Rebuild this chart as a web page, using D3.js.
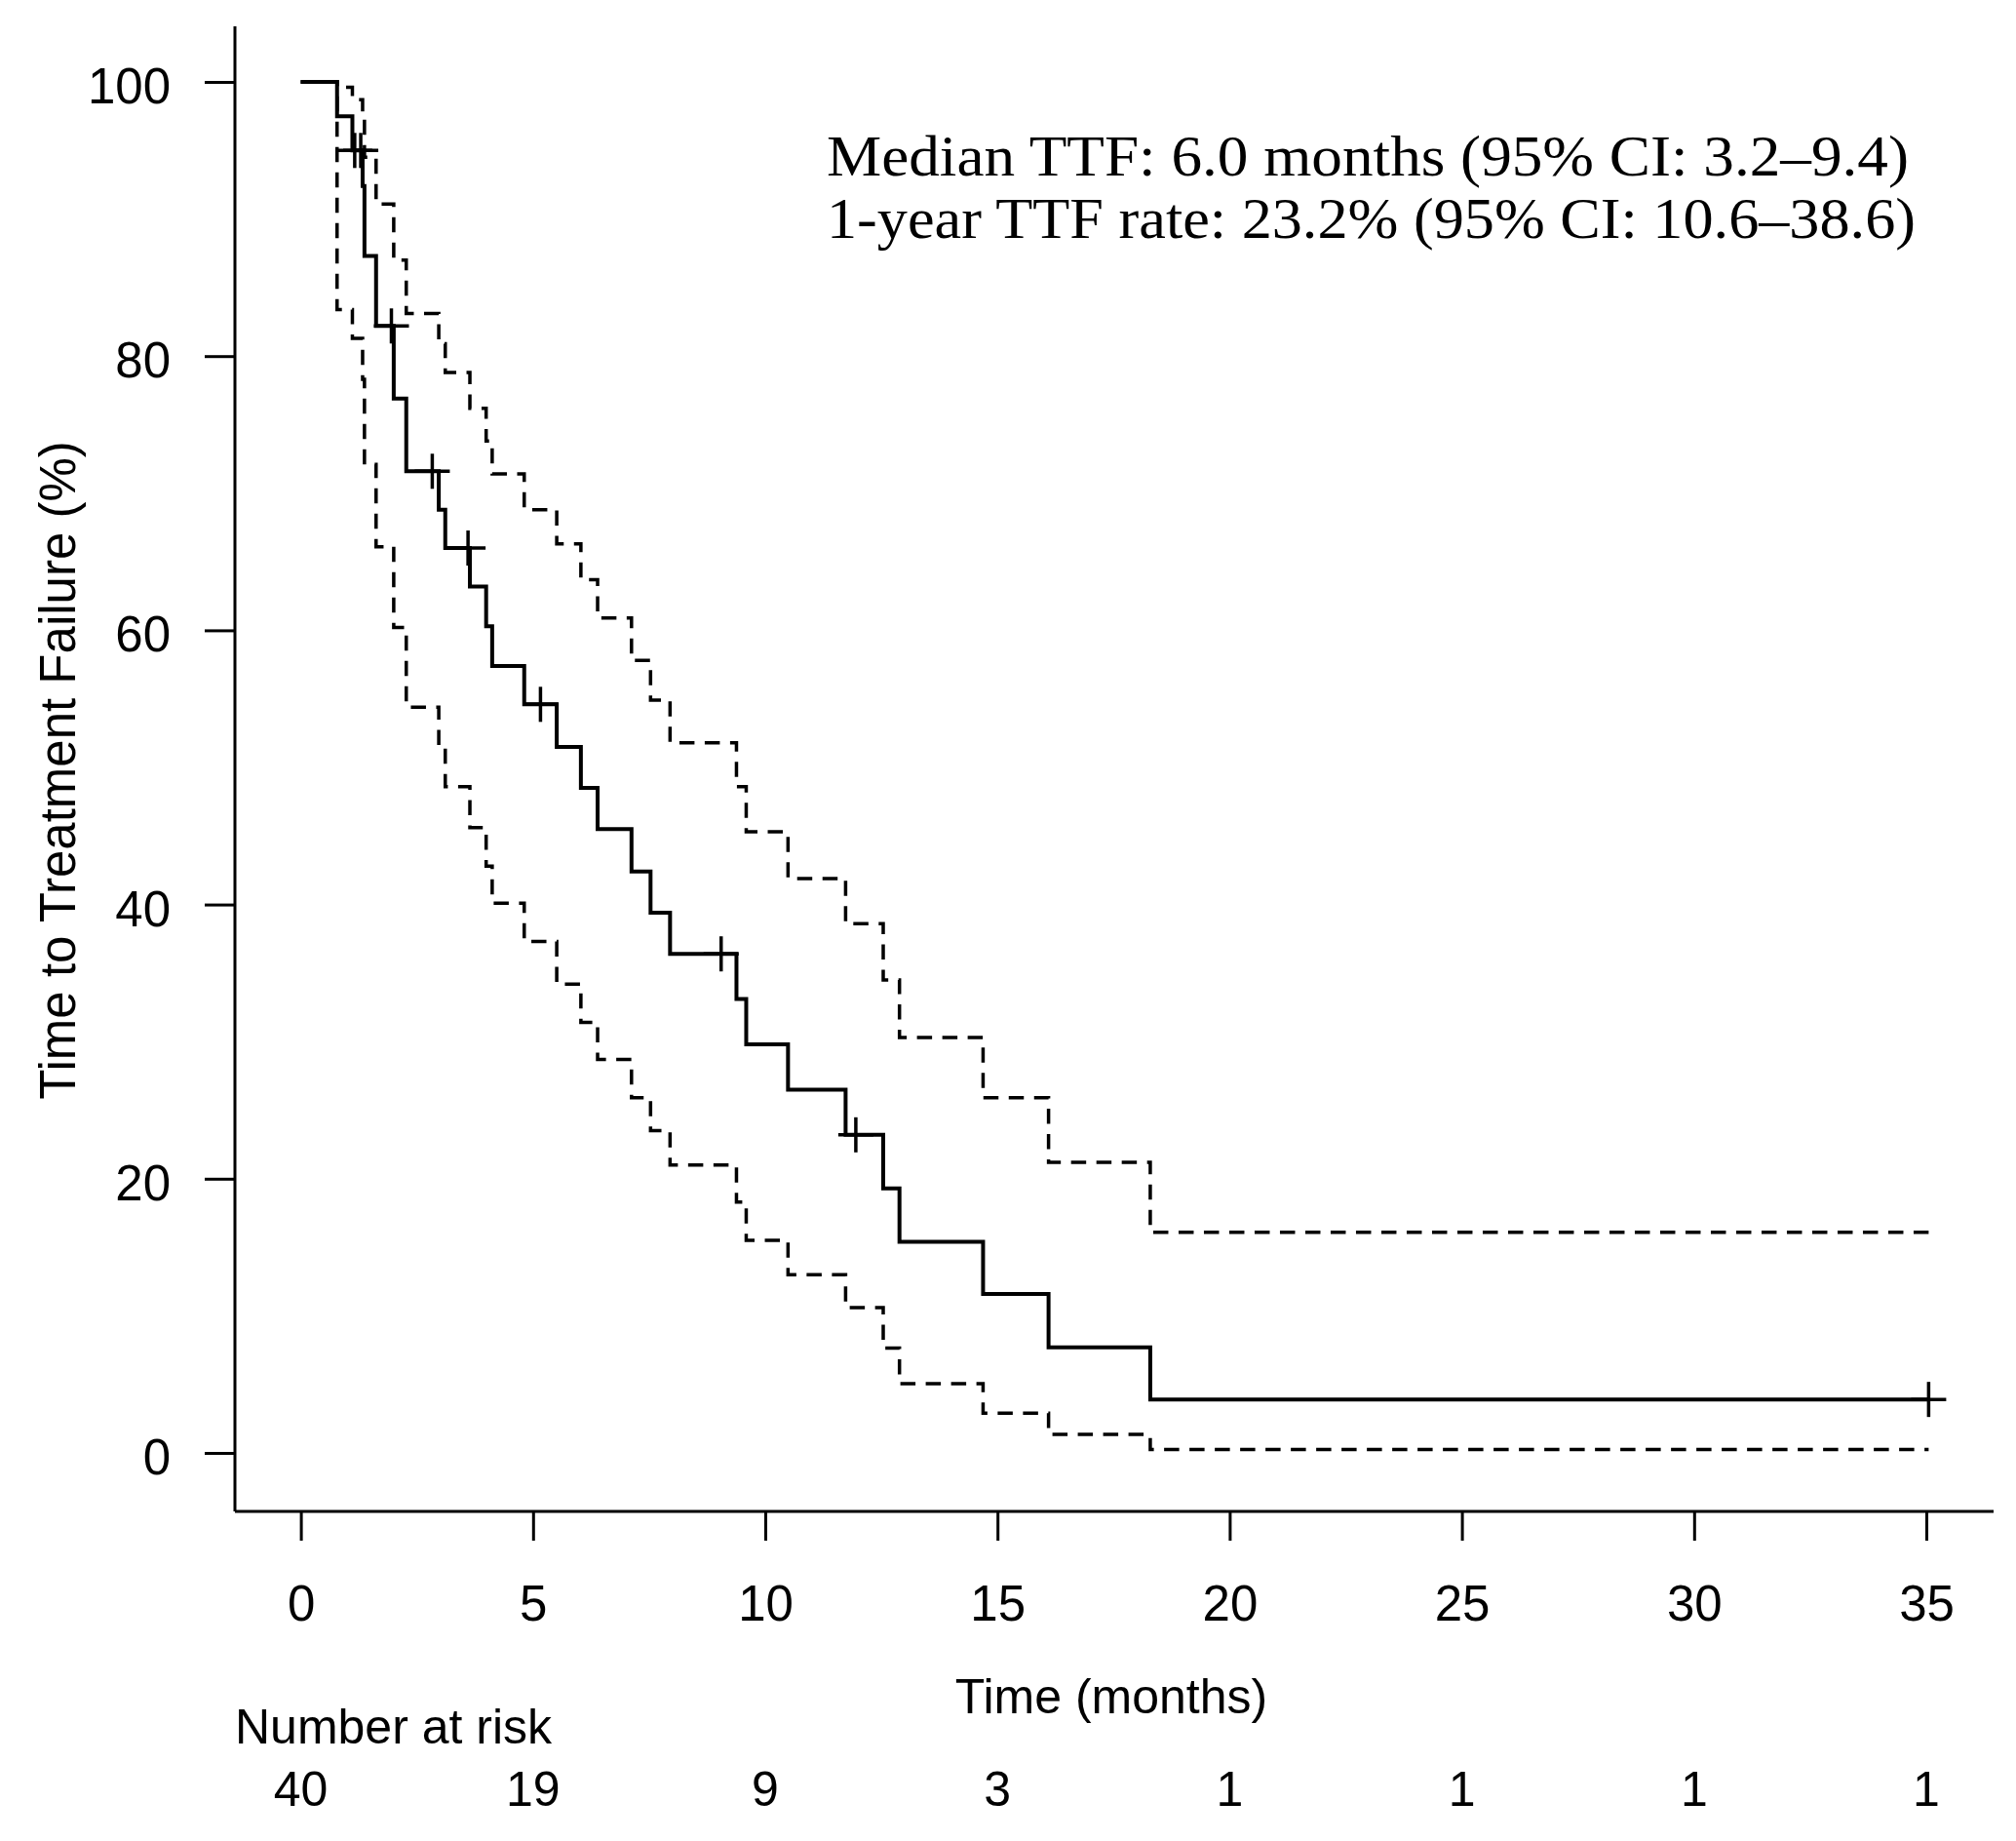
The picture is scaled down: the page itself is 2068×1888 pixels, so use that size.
<!DOCTYPE html>
<html>
<head>
	<meta charset="utf-8">
	<title>Time to Treatment Failure</title>
	<script type="text/javascript" src="https://cdn.jsdelivr.net/npm/d3@7/dist/d3.min.js"></script>
	<style>
		body { margin: 0; background: #fff; }
	</style>
</head>
<body>
	<script type="text/javascript">
		var svgWidth = 2068;
		var svgHeight = 1888;

		// step times (months) and Kaplan-Meier estimate with its 95% CI (%)
		var times = [0, 0.78, 1.11, 1.33, 1.37, 1.62, 2.0, 2.27, 2.97, 3.11, 3.64, 3.99, 4.12, 4.81, 5.51,
			6.03, 6.39, 7.12, 7.53, 7.95, 9.38, 9.59, 10.49, 11.73, 12.54, 12.89, 14.69, 16.10, 18.29, 35.05];
		var surv = [100, 97.5, 95.0, 92.4, 87.3, 82.2, 76.9, 71.6, 68.8, 66.0, 63.2, 60.3, 57.4, 54.6, 51.5,
			48.5, 45.5, 42.4, 39.4, 36.4, 33.1, 29.8, 26.5, 23.2, 19.3, 15.4, 11.6, 7.7, 3.9, 3.9];
		var upper = [100, 99.6, 98.7, 97.5, 94.5, 91.1, 87.0, 83.1, 80.9, 78.8, 76.2, 73.8, 71.4, 68.8, 66.3,
			63.7, 60.9, 57.8, 54.9, 51.8, 48.6, 45.3, 41.9, 38.6, 34.5, 30.3, 25.9, 21.2, 16.1, 16.1];
		var lower = [100, 83.4, 81.3, 78.3, 72.1, 66.1, 60.2, 54.4, 51.4, 48.6, 45.6, 42.8, 40.1, 37.3, 34.2,
			31.4, 28.7, 25.9, 23.5, 21.0, 18.3, 15.5, 13.0, 10.6, 7.65, 5.05, 2.9, 1.35, 0.25, 0.25];
		// censored observations
		var censorTimes = [1.16, 1.29, 1.95, 2.83, 3.6, 5.16, 9.05, 11.95, 35.05];

		var xTicks = [0, 5, 10, 15, 20, 25, 30, 35];
		var yTicks = [0, 20, 40, 60, 80, 100];
		var atRisk = [40, 19, 9, 3, 1, 1, 1, 1];

		var annotation = ["Median TTF: 6.0 months (95% CI: 3.2\u20139.4)",
			"1-year TTF rate: 23.2% (95% CI: 10.6\u201338.6)"];

		var sans = "'Liberation Sans', Arial, sans-serif";
		var serif = "'Liberation Serif', 'Times New Roman', serif";

		var svg = d3.select("body")
					.append("svg")
					.attr("width", svgWidth)
					.attr("height", svgHeight);

		svg.append("rect")
			.attr("width", svgWidth)
			.attr("height", svgHeight)
			.attr("fill", "#fff");

		var x = d3.scaleLinear().domain([0, 35]).range([308.6, 1976]);
		var y = d3.scaleLinear().domain([0, 100]).range([1490, 84]);

		// L-shaped frame
		var frameLeft = 241, frameBottom = 1550;
		svg.append("line")
			.attr("x1", frameLeft).attr("y1", 27)
			.attr("x2", frameLeft).attr("y2", frameBottom)
			.attr("stroke", "#000").attr("stroke-width", 3);
		svg.append("line")
			.attr("x1", frameLeft).attr("y1", frameBottom)
			.attr("x2", 2045).attr("y2", frameBottom)
			.attr("stroke", "#000").attr("stroke-width", 3);

		// y axis
		var yAxis = svg.append("g")
			.attr("transform", "translate(" + frameLeft + ",0)")
			.call(d3.axisLeft(y).tickValues(yTicks).tickSize(31).tickSizeOuter(0).tickPadding(35));
		yAxis.select(".domain").remove();
		yAxis.selectAll(".tick line").attr("stroke", "#000").attr("stroke-width", 3);
		yAxis.selectAll(".tick text")
			.attr("dy", "0.42em")
			.attr("fill", "#000")
			.style("font-family", sans)
			.style("font-size", "51px");

		// x axis
		var xAxis = svg.append("g")
			.attr("transform", "translate(0," + frameBottom + ")")
			.call(d3.axisBottom(x).tickValues(xTicks).tickSize(30).tickSizeOuter(0).tickPadding(46));
		xAxis.select(".domain").remove();
		xAxis.selectAll(".tick line").attr("stroke", "#000").attr("stroke-width", 3);
		xAxis.selectAll(".tick text")
			.attr("fill", "#000")
			.style("font-family", sans)
			.style("font-size", "51px");

		// axis titles
		svg.append("text")
			.text("Time (months)")
			.attr("x", 1140).attr("y", 1757)
			.attr("text-anchor", "middle")
			.style("font-family", sans)
			.style("font-size", "50px");
		svg.append("text")
			.text("Time to Treatment Failure (%)")
			.attr("transform", "translate(77,790) rotate(-90)")
			.attr("text-anchor", "middle")
			.style("font-family", sans)
			.style("font-size", "51px");

		// curves
		var pts = function(vals) {
			return times.map(function(t, i) { return [t, vals[i]]; });
		};
		var step = d3.line()
			.x(function(d) { return x(d[0]); })
			.y(function(d) { return y(d[1]); })
			.curve(d3.curveStepAfter);

		[upper, lower].forEach(function(v) {
			svg.append("path")
				.attr("d", step(pts(v)))
				.attr("fill", "none")
				.attr("stroke", "#000")
				.attr("stroke-width", 3.5)
				.attr("stroke-dasharray", "15.5,10.5");
		});
		svg.append("path")
			.attr("d", step(pts(surv)))
			.attr("fill", "none")
			.attr("stroke", "#000")
			.attr("stroke-width", 4);

		// censor marks: value of the step function at the censor time
		var bis = d3.bisector(function(d) { return d; }).right;
		var cross = svg.selectAll("g.censor")
			.data(censorTimes)
			.enter()
			.append("g")
			.attr("class", "censor")
			.attr("transform", function(t) {
				return "translate(" + x(t) + "," + y(surv[bis(times, t) - 1]) + ")";
			});
		cross.append("line").attr("x1", -18).attr("x2", 18).attr("y1", 0).attr("y2", 0);
		cross.append("line").attr("x1", 0).attr("x2", 0).attr("y1", -18).attr("y2", 18);
		cross.selectAll("line").attr("stroke", "#000").attr("stroke-width", 3.5);

		// annotation
		svg.selectAll("text.note")
			.data(annotation)
			.enter()
			.append("text")
			.attr("class", "note")
			.text(function(d) { return d; })
			.attr("x", 848)
			.attr("y", function(d, i) { return 180 + i * 64; })
			.attr("textLength", function(d, i) { return i === 0 ? 1110 : 1117; })
			.attr("lengthAdjust", "spacingAndGlyphs")
			.style("font-family", serif)
			.style("font-size", "60px");

		// number at risk table
		svg.append("text")
			.text("Number at risk")
			.attr("x", 241).attr("y", 1788)
			.style("font-family", sans)
			.style("font-size", "50px");
		svg.selectAll("text.risk")
			.data(atRisk)
			.enter()
			.append("text")
			.attr("class", "risk")
			.text(function(d) { return d; })
			.attr("x", function(d, i) { return x(xTicks[i]); })
			.attr("y", 1852)
			.attr("text-anchor", "middle")
			.style("font-family", sans)
			.style("font-size", "50px");
	</script>
</body>
</html>
